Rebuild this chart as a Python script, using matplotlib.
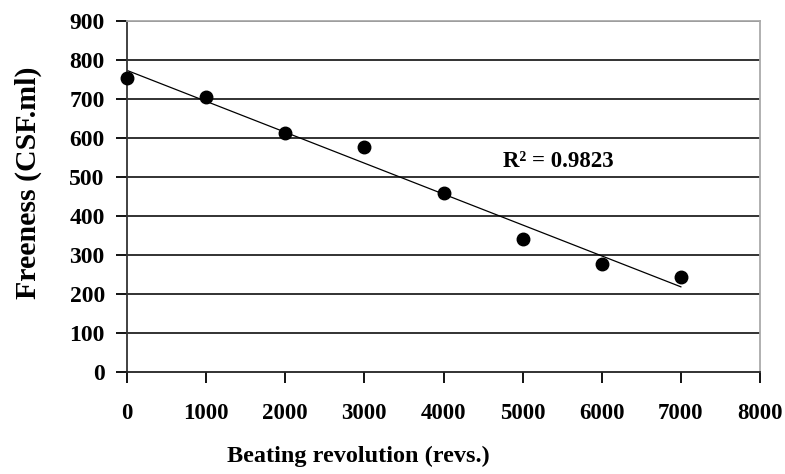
import numpy as np
import matplotlib
matplotlib.use("Agg")
import matplotlib.pyplot as plt

revs = [0, 1000, 2000, 3000, 4000, 5000, 6000, 7000]
freeness = [755, 705, 612, 577, 458, 340, 277, 243]
r2_label = "R² = 0.9823"
x_ticks = [0, 1000, 2000, 3000, 4000, 5000, 6000, 7000, 8000]
y_ticks = [0, 100, 200, 300, 400, 500, 600, 700, 800, 900]

plt.rcParams['font.family'] = ['Liberation Serif', 'DejaVu Serif']
plt.rcParams['font.weight'] = 'bold'

fig = plt.figure(figsize=(7.85, 4.74), dpi=100)
ax = fig.add_axes([127/785, 1-372/474, (760-127)/785, (372-21)/474])

for yv in y_ticks[1:]:
    ax.axhline(yv, color='#222222', lw=1.3, zorder=1)

slope, intercept = np.polyfit(revs, freeness, 1)
xs = np.array([revs[0], revs[-1]])
ax.plot(xs, slope*xs + intercept, color='black', lw=0.9, zorder=2)
ax.plot(revs, freeness, 'o', color='black', ms=9, zorder=3, clip_on=False)

ax.text(4750, 540, r2_label, fontsize=16.5, fontweight='bold', va='center', ha='left')

ax.set_xlim(0, 8000)
ax.set_ylim(0, 900)
ax.set_xticks(x_ticks)
ax.set_yticks(y_ticks)
ax.set_xticklabels([str(v) for v in x_ticks], fontsize=16.5, fontweight='bold')
ax.set_yticklabels([str(v) for v in y_ticks], fontsize=17, fontweight='bold')
ax.tick_params(axis='x', direction='out', length=8, width=1.3, pad=14, colors='black')
ax.tick_params(axis='y', direction='out', length=8, width=1.3, pad=8, colors='black')

ax.spines['left'].set_color('#333333')
ax.spines['left'].set_linewidth(1.3)
ax.spines['bottom'].set_color('#222222')
ax.spines['bottom'].set_linewidth(1.3)
ax.spines['top'].set_color('#aaaaaa')
ax.spines['right'].set_color('#aaaaaa')
ax.spines['top'].set_linewidth(1.3)
ax.spines['right'].set_linewidth(1.3)

fig.text(28/785, 1-183/474, "Freeness (CSF.ml)", rotation=90, fontsize=21.5, fontweight='bold',
         ha='center', va='center')
fig.text(358/785, 1-456/474, "Beating revolution (revs.)", fontsize=17.5, fontweight='bold',
         ha='center', va='center')

fig.savefig("out.png", dpi=100, facecolor='white')
